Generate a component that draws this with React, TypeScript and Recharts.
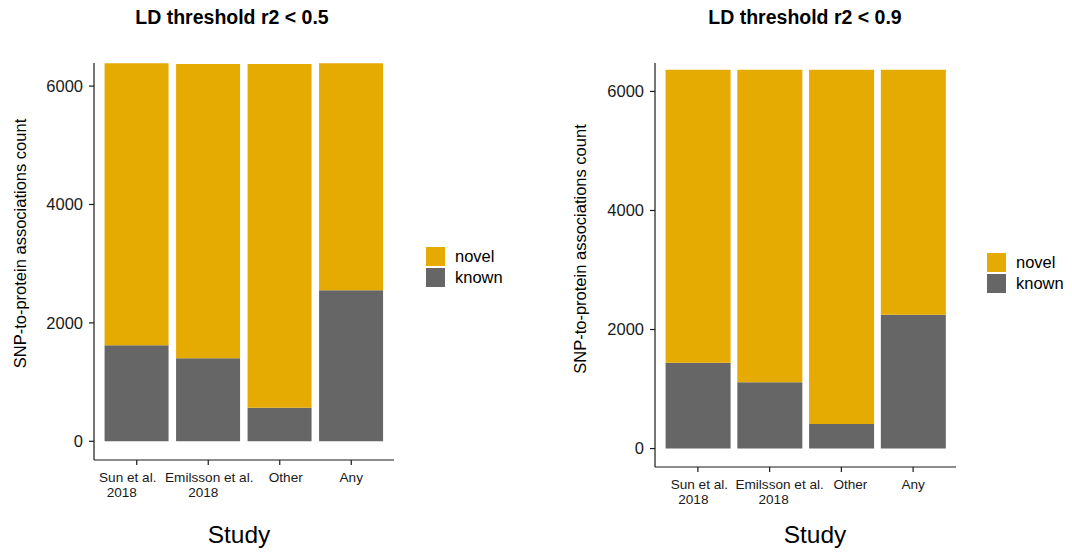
import { BarChart, Bar, XAxis, YAxis, Label } from "recharts";

const studies = ["Sun et al.\n2018", "Emilsson et al.\n2018", "Other", "Any"];
const seriesNames = ["novel", "known"];

// r2 < 0.5
const knownR05 = [1621, 1402, 567, 2550];
const novelR05 = [4764, 4973, 5808, 3835];

// r2 < 0.9
const knownR09 = [1440, 1116, 414, 2248];
const novelR09 = [4926, 5250, 5952, 4118];

const yTicks = [0, 2000, 4000, 6000];

const COLORS: Record<string, string> = {
    novel: "#E6AB02",
    known: "#666666",
};

const FONT = "'Liberation Sans', Arial, sans-serif";

function StudyTick({ x, y, payload, index, nudge }: any) {
    const lines = String(payload.value).split("\n");
    const dx = (nudge && nudge[index]) || 0;
    return (
        <text
            x={x}
            y={y}
            textAnchor="middle"
            fontSize={13.6}
            fontFamily={FONT}
            fill="#1a1a1a"
        >
            {lines.map((line, i) => (
                <tspan key={i} x={x + dx + (i === 0 ? 0 : -6)} dy={15}>
                    {line}
                </tspan>
            ))}
        </text>
    );
}

type PanelProps = {
    title: string;
    known: number[];
    novel: number[];
    left: number;
    width: number;
    yAxisWidth: number;
    marginRight: number;
    marginBottom: number;
    domain: [number, number];
    yLabelX: number;
    yLabelShift: number;
    titleCenter: number;
    studyCenter: number;
    legendX: number;
    legendY: number;
    tickNudge: number[];
};

function Panel(p: PanelProps) {
    const data = studies.map((s, i) => ({
        study: s,
        known: p.known[i],
        novel: p.novel[i],
    }));

    return (
        <>
            <div
                style={{
                    position: "absolute",
                    left: p.titleCenter - 150,
                    width: 300,
                    top: 6,
                    textAlign: "center",
                    fontFamily: FONT,
                    fontWeight: "bold",
                    fontSize: 19.5,
                    color: "#000",
                }}
            >
                {p.title}
            </div>
            <div style={{ position: "absolute", left: p.left, top: 0 }}>
                <BarChart
                    width={p.width}
                    height={552}
                    data={data}
                    margin={{ top: 63, right: p.marginRight, bottom: p.marginBottom, left: 0 }}
                    barCategoryGap="5%"
                >
                    <XAxis
                        dataKey="study"
                        type="category"
                        height={60}
                        padding={{ left: 7, right: 7 }}
                        tick={<StudyTick nudge={p.tickNudge} />}
                        tickSize={5}
                        tickMargin={2}
                        axisLine={{ stroke: "#1a1a1a", strokeWidth: 1.2 }}
                        tickLine={{ stroke: "#1a1a1a", strokeWidth: 1.2 }}
                        interval={0}
                    />
                    <YAxis
                        width={p.yAxisWidth}
                        type="number"
                        domain={p.domain}
                        allowDataOverflow
                        ticks={yTicks}
                        tickSize={5}
                        tickMargin={6}
                        tick={{ fontSize: 16.5, fill: "#1a1a1a", fontFamily: FONT }}
                        axisLine={{ stroke: "#1a1a1a", strokeWidth: 1.2 }}
                        tickLine={{ stroke: "#1a1a1a", strokeWidth: 1.2 }}
                    >
                        <Label
                            content={({ viewBox }: any) => {
                                const cx = viewBox.x + p.yLabelX;
                                const cy = viewBox.y + viewBox.height / 2 + p.yLabelShift;
                                return (
                                    <text
                                        x={cx}
                                        y={cy}
                                        transform={`rotate(-90 ${cx} ${cy})`}
                                        textAnchor="middle"
                                        dominantBaseline="central"
                                        fontSize={16.5}
                                        fontFamily={FONT}
                                        fill="#000"
                                    >
                                        SNP-to-protein associations count
                                    </text>
                                );
                            }}
                        />
                    </YAxis>
                    <Bar dataKey="known" stackId="a" fill={COLORS.known} isAnimationActive={false} />
                    <Bar dataKey="novel" stackId="a" fill={COLORS.novel} isAnimationActive={false} />
                </BarChart>
            </div>
            <div
                style={{
                    position: "absolute",
                    left: p.studyCenter - 60,
                    width: 120,
                    top: 521,
                    textAlign: "center",
                    fontFamily: FONT,
                    fontSize: 24.5,
                    color: "#000",
                }}
            >
                Study
            </div>
            <div style={{ position: "absolute", left: p.legendX, top: p.legendY }}>
                {seriesNames.map((name) => (
                    <div
                        key={name}
                        style={{ display: "flex", alignItems: "center", height: 21 }}
                    >
                        <div
                            style={{
                                width: 19,
                                height: 19,
                                background: COLORS[name],
                                marginRight: 10,
                            }}
                        />
                        <span style={{ fontFamily: FONT, fontSize: 16.5, color: "#000" }}>{name}</span>
                    </div>
                ))}
            </div>
        </>
    );
}

export default function App() {
    return (
        <div
            style={{
                position: "absolute",
                left: 0,
                top: 0,
                width: 1072,
                height: 552,
                background: "#fff",
                overflow: "hidden",
            }}
        >
            <Panel
                title="LD threshold r2 < 0.5"
                known={knownR05}
                novel={novelR05}
                left={0}
                width={540}
                yAxisWidth={94}
                marginRight={146}
                marginBottom={32}
                domain={[-316, 6390]}
                yLabelX={20}
                yLabelShift={-18}
                titleCenter={232}
                studyCenter={239}
                legendX={426}
                legendY={246}
                tickNudge={[-9, 1, 6, 0]}
            />
            <Panel
                title="LD threshold r2 < 0.9"
                known={knownR09}
                novel={novelR09}
                left={540}
                width={532}
                yAxisWidth={115}
                marginRight={116}
                marginBottom={25}
                domain={[-310, 6478]}
                yLabelX={40}
                yLabelShift={-16}
                titleCenter={805}
                studyCenter={815}
                legendX={987}
                legendY={252}
                tickNudge={[1.5, 10, 9, 0]}
            />
        </div>
    );
}
